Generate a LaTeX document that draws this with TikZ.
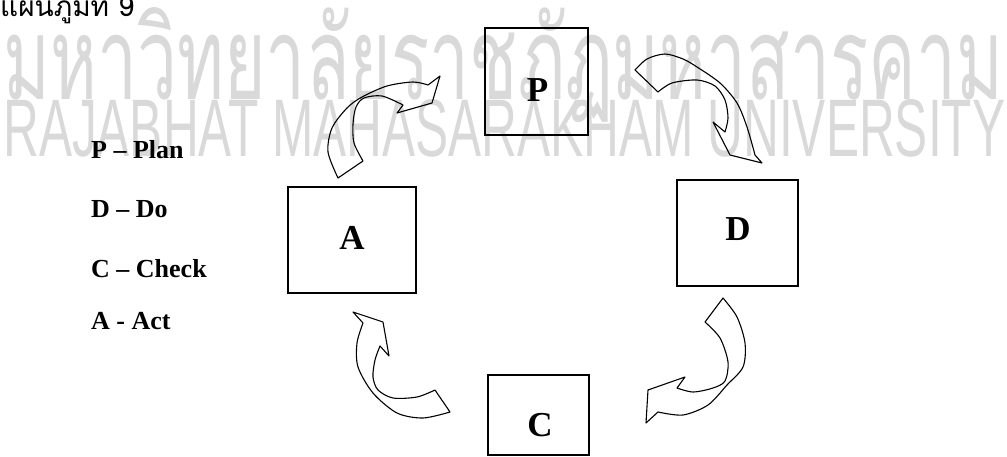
\documentclass[tikz,border=0pt]{standalone}
\usepackage{fontspec}
\usepackage{graphicx}
\setmainfont{Liberation Serif}
\newfontfamily\thaifont[Script=Thai]{Loma}
\newfontfamily\wmfont{Liberation Sans}

\begin{document}
\begin{tikzpicture}[x=1pt,y=-1pt,
	box/.style={shape=rectangle,draw=black,line width=1.4pt,inner sep=0pt},
	letter/.style={font=\fontsize{35}{35}\selectfont\bfseries},
	legend/.style={anchor=base west,inner sep=0pt,font=\fontsize{26}{26}\selectfont\bfseries},
	wm/.style={anchor=base west,inner sep=0pt,text=black!15},
	cyclearrow/.style={draw=black,line width=1.1pt,line join=round}]
	
	\useasboundingbox (0,0) rectangle (1007,457);
	
	% watermark
	\node[wm] (wmthai)  at (3,100) {\resizebox{1000pt}{92pt}{\thaifont มหาวิทยาลัยราชภัฏมหาสารคาม}};
	\node[wm] (wmlatin) at (3,157) {\resizebox{1002pt}{57pt}{\wmfont RAJABHAT MAHASARAKHAM UNIVERSITY}};
	
	\node[anchor=base west,inner sep=0pt] (title) at (0,17) {\thaifont\fontsize{28}{28}\selectfont แผนภูมิที่ 9};
	
	% boxes
	\node[box,minimum width=103pt,minimum height=107pt] (P) at (536.5,81.5) {};
	\node[box,minimum width=128pt,minimum height=106pt] (A) at (352,240)   {};
	\node[box,minimum width=121pt,minimum height=106pt] (D) at (737.5,233) {};
	\node[box,minimum width=101pt,minimum height=80pt]  (C) at (538.5,415) {};
	
	\node[letter] (Pl) at (537.5,90) {P};
	\node[letter] (Al) at (352,238)  {A};
	\node[letter] (Dl) at (738,229)  {D};
	\node[letter] (Cl) at (540,425)  {C};
	
	% legend
	\node[legend] (lp) at (91,159) {P -- Plan};
	\node[legend] (ld) at (91,218) {D -- Do};
	\node[legend] (lc) at (91,277) {C -- Check};
	\node[legend] (la) at (91,329) {A - Act};
	
	% A to P
	\draw[cyclearrow] plot[smooth] coordinates {(338,178) (328,152) (332,128) (347,108) (362,97) (387,86) (413,82) (428,85)}
		-- (440,76) -- (432,103) -- (397,113) -- (403,105)
		-- plot[smooth] coordinates {(403,105) (382,96) (364,98) (356,107) (353,124) (354,143) (363,161)} -- cycle;
	% P to D
	\draw[cyclearrow] plot[smooth] coordinates {(635,70) (647,59) (665,54) (683,59) (697,67) (720,83) (737,103) (747,127) (755,155)}
		-- (762,163) -- (730,155) -- (713,122) -- (725,132)
		-- plot[smooth] coordinates {(725,132) (728,118) (725,100) (715,86) (697,80) (672,83) (658,92)} -- cycle;
	% D to C
	\draw[cyclearrow] plot[smooth] coordinates {(723,298) (737,317) (745,343) (743,367) (727,385) (708,405) (683,415) (658,412)}
		-- (646,423) -- (648,390) -- (685,377) -- (677,388)
		-- plot[smooth] coordinates {(677,388) (693,392) (713,388) (725,381) (728,362) (720,338) (705,322)} -- cycle;
	% C to A
	\draw[cyclearrow] plot[smooth] coordinates {(450,412) (423,418) (397,413) (373,393) (358,367) (357,343) (363,323)}
		-- (353,312) -- (383,322) -- (389,356) -- (380,346)
		-- plot[smooth] coordinates {(380,346) (375,360) (373,377) (378,390) (393,398) (417,397) (435,390)} -- cycle;
	
\end{tikzpicture}
\end{document}
